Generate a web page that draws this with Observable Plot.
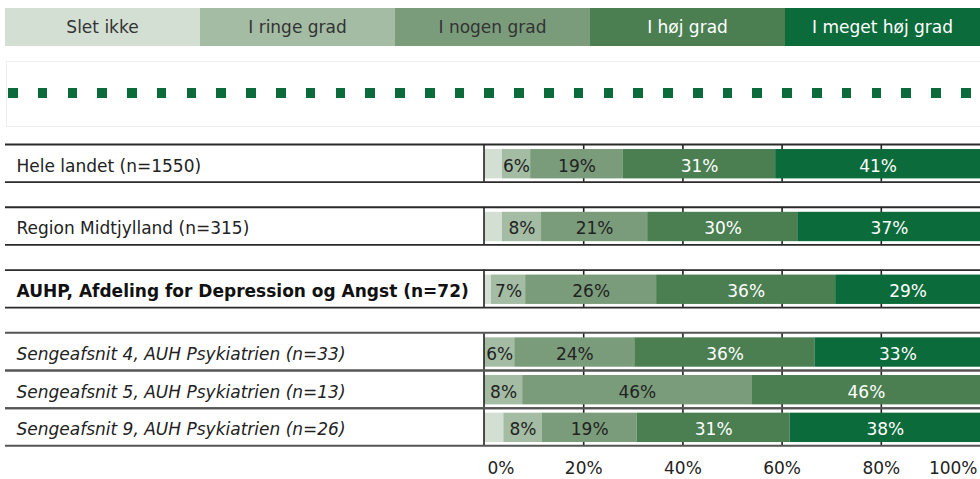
<!DOCTYPE html>
<html>
<head>
<meta charset="utf-8">
<script src="https://cdn.jsdelivr.net/npm/d3@7"></script>
<script src="https://cdn.jsdelivr.net/npm/@observablehq/plot@0.6"></script>
<style>
  html, body { margin: 0; padding: 0; background: #fff; }
  body { width: 980px; height: 479px; overflow: hidden; font-family: "DejaVu Sans", Verdana, sans-serif; }
  #header { position: relative; width: 980px; height: 130px; }
  #legend { position: absolute; left: 5px; top: 8px; width: 975px; height: 38px; display: flex; }
  #legend div { flex: 1 1 0; display: flex; align-items: center; justify-content: center; font-size: 17px; }
  #dots { position: absolute; left: 6px; top: 61px; width: 974px; height: 64px;
          border-top: 1px solid #efefef; border-bottom: 1px solid #efefef; border-left: 1px solid #efefef; }
  #dots .line { position: absolute; left: 1px; top: 26px; width: 964px; height: 10px;
          background: repeating-linear-gradient(to right, #0b6b3a 0px, #0b6b3a 9.6px, transparent 9.6px, transparent 29.78px); }
  #chart svg { display: block; }
</style>
</head>
<body>
<div id="header">
  <div id="legend"></div>
  <div id="dots"><div class="line"></div></div>
</div>
<div id="chart"></div>
<script>
const categories = ["Slet ikke", "I ringe grad", "I nogen grad", "I høj grad", "I meget høj grad"];
const colors = ["#d3dfd3", "#a3bca3", "#7a9c7a", "#4b7f52", "#0b6b3a"];
const rowLabels = [
  "Hele landet (n=1550)",
  "Region Midtjylland (n=315)",
  "AUHP, Afdeling for Depression og Angst (n=72)",
  "Sengeafsnit 4, AUH Psykiatrien (n=33)",
  "Sengeafsnit 5, AUH Psykiatrien (n=13)",
  "Sengeafsnit 9, AUH Psykiatrien (n=26)"
];
const sletIkke       = [3.6, 3.6, 1.4, 0.0, 0.0, 3.9];
const iRingeGrad     = [5.7, 7.9, 6.9, 6.1, 7.7, 7.7];
const iNogenGrad     = [18.7, 21.4, 26.4, 24.2, 46.2, 19.2];
const iHoejGrad      = [30.7, 30.4, 36.1, 36.4, 46.2, 30.8];
const iMegetHoejGrad = [41.3, 36.7, 29.2, 33.3, 0.0, 38.4];
const tickValues = [0, 20, 40, 60, 80, 100];
const tickLabels = ["0%", "20%", "40%", "60%", "80%", "100%"];

const series = [sletIkke, iRingeGrad, iNogenGrad, iHoejGrad, iMegetHoejGrad];

// legend
const legend = document.getElementById("legend");
categories.forEach((c, i) => {
  const d = document.createElement("div");
  d.textContent = c;
  d.style.background = colors[i];
  d.style.color = i < 3 ? "#333" : "#fff";
  legend.appendChild(d);
});

// layout (row units: row = 3, gap between groups = 2)
const rows = rowLabels.map((label, i) => {
  const top = i * 3 + 2 * Math.min(i, 3);
  return {label, i, top, bottom: top + 3, mid: top + 1.57,
          lower: i >= 3, bold: i === 2, italic: label.startsWith("Sengeafsnit")};
});

const segs = [];
rows.forEach(r => {
  let cum = 0;
  series.forEach((s, c) => {
    const v = s[r.i];
    segs.push({row: r, cat: categories[c], c, v, x1: cum, x2: cum + v,
               y1: r.top + 0.4, y2: r.top + 2.74, mid: r.mid});
    cum += v;
  });
});

const grid = [];
rows.forEach(r => [20, 40, 60, 80].forEach(x => grid.push({x, y1: r.top, y2: r.bottom})));

const borders = [];
rows.forEach(r => { borders.push({y: r.top, lower: r.lower}); borders.push({y: r.bottom, lower: r.lower}); });

const ticks = tickValues.map((v, i) => ({v, label: tickLabels[i]}));
const shown = segs.filter(d => d.v >= 5);

const chart = Plot.plot({
  width: 980,
  height: 349,
  marginLeft: 5, marginRight: 0, marginTop: 0, marginBottom: 0,
  x: {domain: [0, 100], range: [484, 980], axis: null},
  y: {domain: [0, 24], range: [14, 315.3], axis: null},
  color: {type: "ordinal", domain: categories, range: colors},
  style: {fontFamily: "DejaVu Sans, Verdana, sans-serif", fontSize: "17px", background: "white", overflow: "visible"},
  marks: [
    Plot.ruleX(grid, {x: "x", y1: "y1", y2: "y2", stroke: "#222", strokeWidth: 1.6}),
    Plot.rect(segs.filter(d => d.v > 0), {x1: "x1", x2: "x2", y1: "y1", y2: "y2", fill: "cat"}),
    Plot.ruleX(rows, {x: 0, y1: "top", y2: "bottom", stroke: "#222", strokeWidth: 1.6, dx: -0.5}),
    Plot.ruleY(borders.filter(d => !d.lower), {y: "y", stroke: "#2a2a2a", strokeWidth: 1.8}),
    Plot.ruleY(borders.filter(d => d.lower), {y: "y", stroke: "#555", strokeWidth: 2}),
    Plot.text(rows.filter(r => !r.bold && !r.italic), {y: "mid", text: "label", frameAnchor: "left", textAnchor: "start", dx: 11, dy: 2, fill: "#222", fontSize: 17}),
    Plot.text(rows.filter(r => r.bold), {y: "mid", text: "label", frameAnchor: "left", textAnchor: "start", dx: 11, dy: 2, fill: "#111", fontSize: 17, fontWeight: "bold"}),
    Plot.text(rows.filter(r => r.italic), {y: "mid", text: "label", frameAnchor: "left", textAnchor: "start", dx: 11, dy: 2, fill: "#222", fontSize: 17, fontStyle: "italic"}),
    Plot.text(shown.filter(d => d.c < 3), {x: d => (d.x1 + d.x2) / 2, y: "mid", dy: 2, text: d => Math.round(d.v) + "%", fill: "#222", fontSize: 17}),
    Plot.text(shown.filter(d => d.c >= 3), {x: d => (d.x1 + d.x2) / 2, y: "mid", dy: 2, text: d => Math.round(d.v) + "%", fill: "#fff", fontSize: 17}),
    Plot.text(ticks.filter(d => d.v > 0 && d.v < 100), {x: "v", text: "label", frameAnchor: "bottom", dy: -6, fill: "#222", fontSize: 17}),
    Plot.text(ticks.filter(d => d.v === 0), {x: "v", text: "label", frameAnchor: "bottom", dy: -6, dx: 3, textAnchor: "start", fill: "#222", fontSize: 17}),
    Plot.text(ticks.filter(d => d.v === 100), {x: "v", text: "label", frameAnchor: "bottom", dy: -6, dx: -3, textAnchor: "end", fill: "#222", fontSize: 17})
  ]
});
document.getElementById("chart").appendChild(chart);
</script>
</body>
</html>
